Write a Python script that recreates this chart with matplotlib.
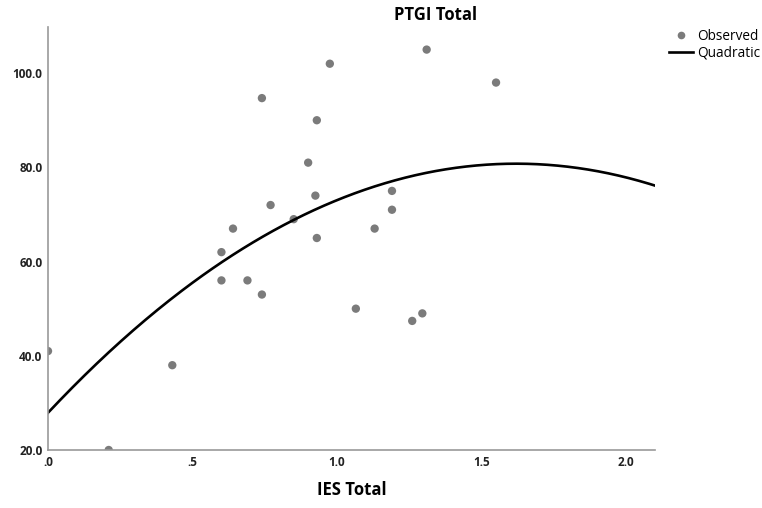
import numpy as np
import matplotlib
matplotlib.use("Agg")
import matplotlib.pyplot as plt
from matplotlib.lines import Line2D

ies_total = [0.0, 0.21, 0.43, 0.60, 0.60, 0.64, 0.69, 0.74, 0.74, 0.77,
             0.85, 0.90, 0.925, 0.93, 0.93, 0.975, 1.065, 1.13, 1.19, 1.19,
             1.26, 1.295, 1.31, 1.55]
ptgi_total = [41.0, 20.0, 38.0, 62.0, 56.0, 67.0, 56.0, 53.0, 94.7, 72.0,
              69.0, 81.0, 74.0, 90.0, 65.0, 102.0, 50.0, 67.0, 75.0, 71.0,
              47.4, 49.0, 105.0, 98.0]

# quadratic fit  y = b0 + b1*x + b2*x^2
quad_coef = [27.9, 65.3, -20.16]

x_ticks = [0.0, 0.5, 1.0, 1.5, 2.0]
x_ticklabels = [".0", ".5", "1.0", "1.5", "2.0"]
y_ticks = [20, 40, 60, 80, 100]
y_ticklabels = ["20.0", "40.0", "60.0", "80.0", "100.0"]

plt.rcParams['font.family'] = ['Open Sans', 'DejaVu Sans']

fig = plt.figure(figsize=(7.62, 5.08), dpi=100)
ax = fig.add_axes([0.063, 0.1142, 0.7966, 0.8327])

ax.scatter(ies_total, ptgi_total, s=36, color='#7b7b7b', edgecolors='none',
           zorder=3, label='Observed')
xx = np.linspace(0, 2.1, 300)
yy = quad_coef[0] + quad_coef[1] * xx + quad_coef[2] * xx ** 2
ax.plot(xx, yy, color='black', lw=1.9, zorder=4, label='Quadratic')

ax.set_xlim(0, 2.1)
ax.set_ylim(20, 109.8)
ax.set_xticks(x_ticks)
ax.set_xticklabels(x_ticklabels, fontsize=8.5, fontweight='bold', color='#222222')
ax.set_yticks(y_ticks)
ax.set_yticklabels(y_ticklabels, fontsize=8.5, fontweight='bold', color='#222222')
ax.tick_params(length=0, pad=4)

for s in ['top', 'right']:
    ax.spines[s].set_visible(False)
for s in ['left', 'bottom']:
    ax.spines[s].set_color('#999999')
    ax.spines[s].set_linewidth(1.2)
    ax.spines[s].set_zorder(5)

fig.text(436 / 762, 1 - 15 / 508, 'PTGI Total', ha='center', va='center',
         fontsize=12, fontweight='bold')
fig.text(352 / 762, 1 - 490 / 508, 'IES Total', ha='center', va='center',
         fontsize=12, fontweight='bold')

handles = [Line2D([], [], ls='none', marker='o', ms=5.5, color='#7b7b7b', mec='none'),
           Line2D([], [], color='black', lw=1.9)]
fig.legend(handles, ['Observed', 'Quadratic'], loc='upper left',
           bbox_to_anchor=(669 / 762, 1 - 29 / 508), frameon=False,
           fontsize=9.8, handlelength=1.75, handletextpad=0.3, labelspacing=0.1,
           borderpad=0, borderaxespad=0)

fig.savefig('out.png', dpi=100)
